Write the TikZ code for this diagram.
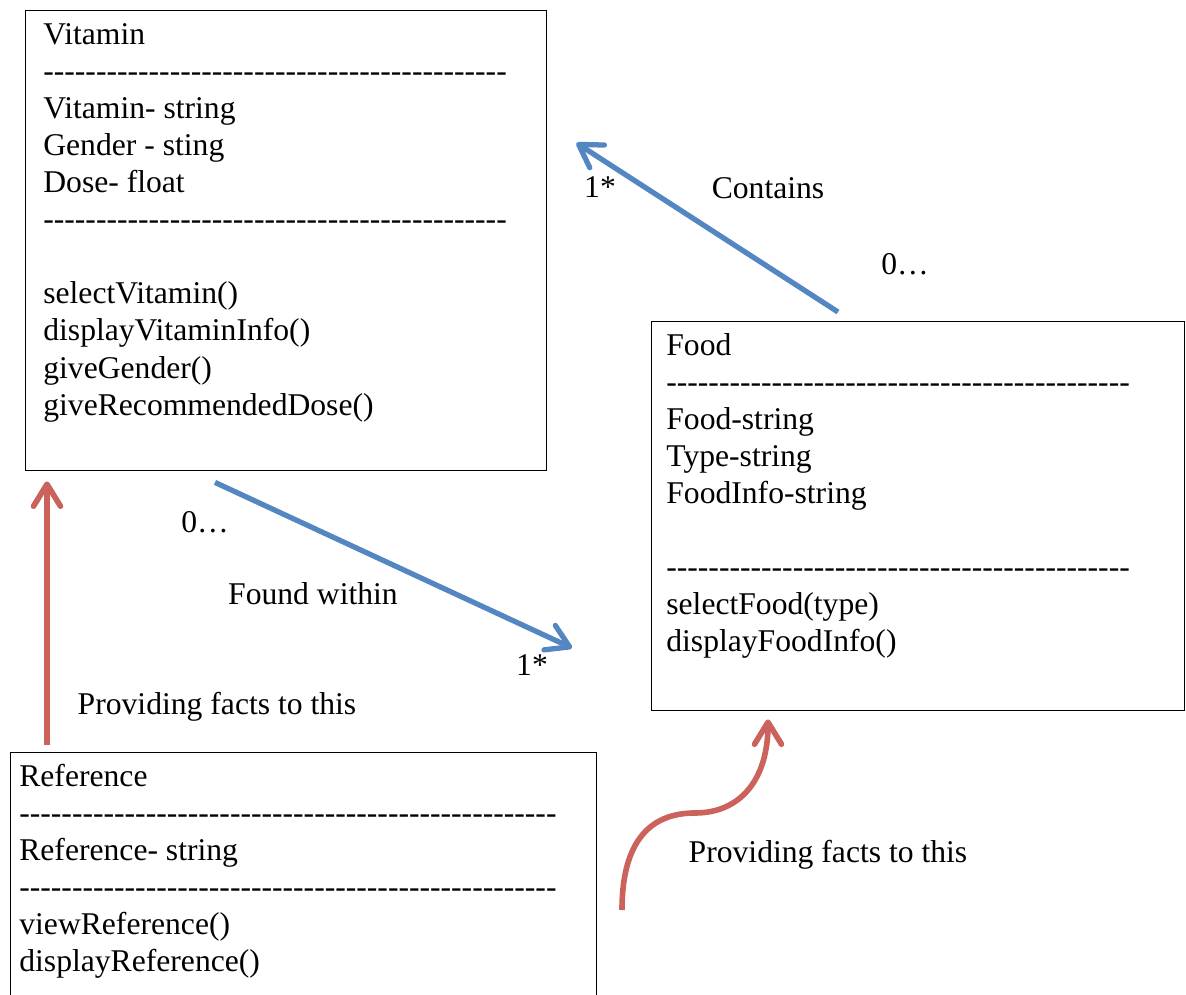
\documentclass[tikz,border=0pt]{standalone}
\usepackage{fontspec}
\setmainfont{Liberation Serif}[Ligatures=TeXOff]
\usetikzlibrary{arrows.meta}

\definecolor{assocblue}{RGB}{84,134,194}
\definecolor{factsred}{RGB}{204,98,92}

\begin{document}
\begin{tikzpicture}[
    classbox/.style={rectangle, draw=black, line width=0.8pt, anchor=north west, inner sep=0pt},
    classtext/.style={anchor=north west, inner sep=0pt, align=left, font=\fontsize{18}{21.1}\selectfont},
    lbl/.style={font=\fontsize{18}{21.1}\selectfont, inner sep=0pt},
    assoc/.style={draw=assocblue, line width=3pt, -{Straight Barb[length=4.4mm, width=5.4mm, round]}},
    facts/.style={draw=factsred, line width=3.2pt, -{Straight Barb[length=4.4mm, width=5.4mm, round]}}
]
\useasboundingbox (0,0) rectangle (23.72,19.88);

% --- Clases ---
\node[classbox, minimum width=10.42cm, minimum height=9.2cm] (vitamin) at (0.5,19.68) {};
\node[classtext] (vitamintext) at ([xshift=0.36cm, yshift=-0.16cm]vitamin.north west)
    {\strut Vitamin\\
     --------------------------------------------\\
     Vitamin- string\\
     Gender - sting\\
     Dose- float\\
     --------------------------------------------\\
     \mbox{}\\
     selectVitamin()\\
     displayVitaminInfo()\\
     giveGender()\\
     giveRecommendedDose()};

\node[classbox, minimum width=10.66cm, minimum height=7.78cm] (food) at (13.02,13.46) {};
\node[classtext] (foodtext) at ([xshift=0.3cm, yshift=-0.16cm]food.north west)
    {\strut Food\\
     --------------------------------------------\\
     Food-string\\
     Type-string\\
     FoodInfo-string\\
     \mbox{}\\
     --------------------------------------------\\
     selectFood(type)\\
     displayFoodInfo()};

\node[classbox, minimum width=11.72cm, minimum height=5.3cm] (reference) at (0.2,4.84) {};
\node[classtext] (referencetext) at ([xshift=0.18cm, yshift=-0.16cm]reference.north west)
    {\strut Reference\\
     ---------------------------------------------------\\
     Reference- string\\
     ---------------------------------------------------\\
     viewReference()\\
     displayReference()};

% --- Asociaciones ---
\draw[assoc] ([xshift=3.74cm, yshift=0.18cm]food.north west) -- ([xshift=0.58cm, yshift=-2.66cm]vitamin.north east);
\draw[assoc] ([xshift=3.8cm, yshift=-0.22cm]vitamin.south west) -- ([xshift=-1.58cm, yshift=-6.54cm]food.north west);

\node[lbl] (contains) at (15.36,16.12) {Contains};
\node[lbl] (containsto) at (12.0,16.14) {1*};
\node[lbl] (containsfrom) at (18.1,14.6) {0…};
\node[lbl] (foundwithin) at (6.26,8.0) {Found within};
\node[lbl] (foundfrom) at (4.1,9.44) {0…};
\node[lbl] (foundto) at (10.64,6.58) {1*};

% --- Referencias ---
\coordinate (factsstart) at (12.44,1.68);
\draw[facts] ([xshift=0.74cm, yshift=0.14cm]reference.north west) -- ([xshift=0.44cm, yshift=-0.2cm]vitamin.south west);
\draw[facts] (factsstart) .. controls (12.44,3.28) and (13.2,3.62) .. (13.9,3.62)
    .. controls (14.8,3.62) and (15.36,4.28) .. ([xshift=2.34cm, yshift=-0.16cm]food.south west);

\node[lbl] (factsleft) at (4.34,5.74) {Providing facts to this};
\node[lbl] (factsright) at (16.56,2.78) {Providing facts to this};

\end{tikzpicture}
\end{document}
